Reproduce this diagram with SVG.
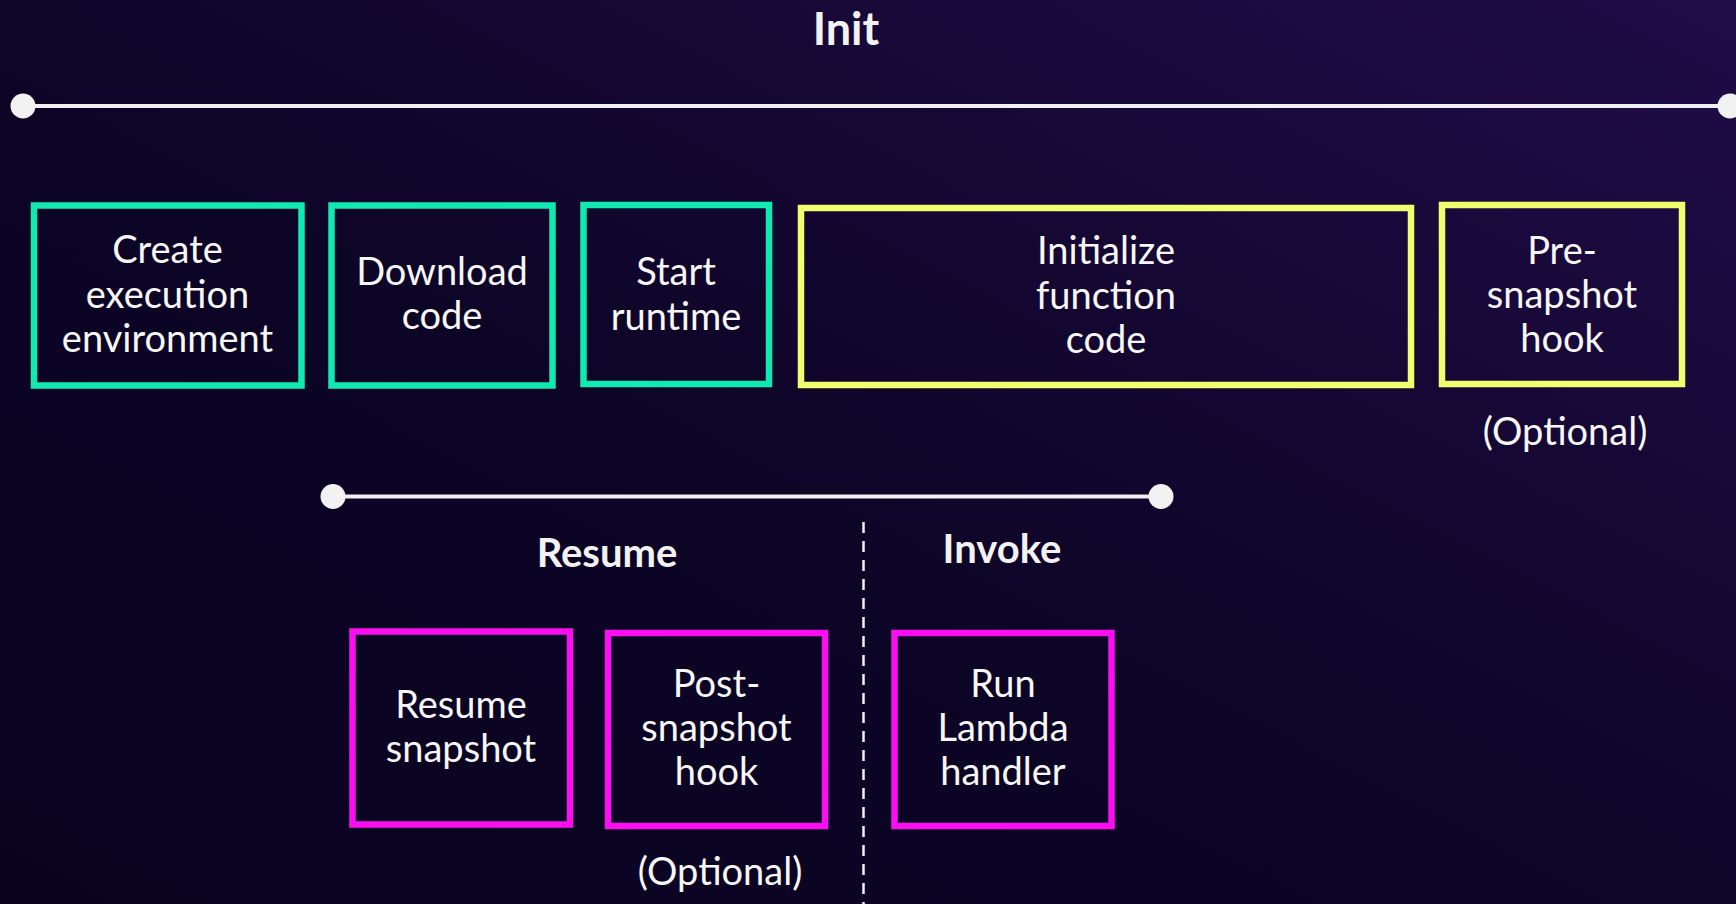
<svg xmlns="http://www.w3.org/2000/svg" width="1736" height="904" viewBox="0 0 1736 904">
  <defs>
    <linearGradient id="bg" x1="0" y1="1" x2="1" y2="0">
      <stop offset="0" stop-color="#0a0320"/>
      <stop offset="0.45" stop-color="#0d0526"/>
      <stop offset="1" stop-color="#200c48"/>
    </linearGradient>
    <style>
      .lbl { font-family: Lato, "Open Sans", sans-serif; font-size: 38px; fill: #f7f7f7; text-anchor: middle; }
      .ttl { font-family: Lato, "Open Sans", sans-serif; font-weight: 700; fill: #f2f2f2; text-anchor: middle; }
      .teal { fill: none; stroke: #12e9b0; stroke-width: 6.5; }
      .yel { fill: none; stroke: #f0ff6e; stroke-width: 6.5; }
      .mag { fill: none; stroke: #fb0ef0; stroke-width: 6.5; }
      .tl { stroke: #f0f0f2; stroke-width: 4; fill: none; }
      .dot { fill: #f2f2f2; }
    </style>
  </defs>
  <rect x="0" y="0" width="1736" height="904" fill="url(#bg)"/>

  <g id="connectors">
    <line class="tl" x1="23" y1="106" x2="1730" y2="106"/>
    <circle class="dot" cx="23" cy="106" r="12.5"/>
    <circle class="dot" cx="1730" cy="106" r="12.5"/>
    <line class="tl" x1="333" y1="496.5" x2="1161" y2="496.5"/>
    <circle class="dot" cx="333" cy="496.5" r="12.5"/>
    <circle class="dot" cx="1161" cy="496.5" r="12.5"/>
    <line x1="863.5" y1="522" x2="863.5" y2="904" stroke="#f0f0f2" stroke-width="2.5" stroke-dasharray="11 8"/>
  </g>

  <g id="titles">
    <text class="ttl" x="846" y="45" font-size="45">Init</text>
    <text class="ttl" x="607" y="567" font-size="40">Resume</text>
    <text class="ttl" x="1002" y="563" font-size="40">Invoke</text>
  </g>

  <g id="create-env">
    <rect class="teal" x="34" y="205.5" width="267.5" height="180"/>
    <text class="lbl" x="167.5" y="263">Create</text>
    <text class="lbl" x="167.5" y="308">execution</text>
    <text class="lbl" x="167.5" y="352">environment</text>
  </g>
  <g id="download-code">
    <rect class="teal" x="331.5" y="205.5" width="221" height="180"/>
    <text class="lbl" x="442" y="285">Download</text>
    <text class="lbl" x="442" y="329">code</text>
  </g>
  <g id="start-runtime">
    <rect class="teal" x="583.5" y="205" width="185.5" height="179"/>
    <text class="lbl" x="676" y="285">Start</text>
    <text class="lbl" x="676" y="330">runtime</text>
  </g>
  <g id="init-function">
    <rect class="yel" x="801" y="208" width="610" height="177"/>
    <text class="lbl" x="1106" y="264">Initialize</text>
    <text class="lbl" x="1106" y="309">function</text>
    <text class="lbl" x="1106" y="353">code</text>
  </g>
  <g id="pre-snapshot">
    <rect class="yel" x="1442" y="205" width="240" height="179"/>
    <text class="lbl" x="1562" y="264">Pre-</text>
    <text class="lbl" x="1562" y="308">snapshot</text>
    <text class="lbl" x="1562" y="352">hook</text>
    <text class="lbl" x="1565" y="445">(Optional)</text>
  </g>
  <g id="resume-snapshot">
    <rect class="mag" x="352.5" y="631.5" width="217.5" height="193"/>
    <text class="lbl" x="461" y="718">Resume</text>
    <text class="lbl" x="461" y="762">snapshot</text>
  </g>
  <g id="post-snapshot">
    <rect class="mag" x="608" y="633" width="217" height="193"/>
    <text class="lbl" x="716.5" y="697">Post-</text>
    <text class="lbl" x="716.5" y="741">snapshot</text>
    <text class="lbl" x="716.5" y="785">hook</text>
    <text class="lbl" x="720" y="885">(Optional)</text>
  </g>
  <g id="run-handler">
    <rect class="mag" x="894.5" y="633" width="217" height="193"/>
    <text class="lbl" x="1003" y="697">Run</text>
    <text class="lbl" x="1003" y="741">Lambda</text>
    <text class="lbl" x="1003" y="785">handler</text>
  </g>
</svg>
